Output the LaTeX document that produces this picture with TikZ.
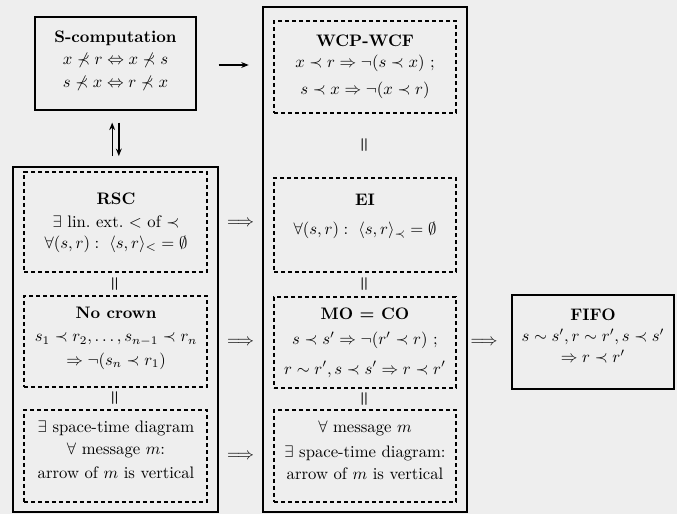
\documentclass[tikz,border=0pt]{standalone}
\usepackage{amsmath, amssymb}
\usetikzlibrary{fit, calc, arrows.meta}
\definecolor{paper}{RGB}{238,238,238}

\begin{document}
\begin{tikzpicture}[x=0.6pt, y=-0.6pt,
  solidbox/.style={draw, line width=1.1pt, inner sep=0pt},
  dashbox/.style={draw, line width=1.1pt, dash pattern=on 2.6pt off 1.6pt, inner sep=0pt},
  ttl/.style={anchor=base, font=\bfseries},
  txt/.style={anchor=base},
  eqv/.style={rotate=90, inner sep=0pt},
  arr/.style={-{Stealth[length=4.5pt, width=3.5pt]}, line width=0.8pt}]
% 底
\fill[paper] (0, 0) rectangle (677, 514);
\useasboundingbox (0, 0) rectangle (677, 514);
% 实框
\node[solidbox, fit={(35, 17) (196, 110)}] (scomp) {};
\node[solidbox, fit={(13, 167) (218, 512)}] (lft) {};
\node[solidbox, fit={(263, 7) (467, 512)}] (mid) {};
\node[solidbox, fit={(512, 295) (674, 389)}] (fifo) {};
% 虚框
\node[dashbox, fit={(24, 172) (207, 272)}] (rsc) {};
\node[dashbox, fit={(24, 296) (207, 387)}] (crown) {};
\node[dashbox, fit={(24, 410) (207, 502)}] (sptl) {};
\node[dashbox, fit={(274, 21) (456, 113)}] (wcp) {};
\node[dashbox, fit={(274, 178) (456, 272)}] (ei) {};
\node[dashbox, fit={(274, 297) (456, 388)}] (moco) {};
\node[dashbox, fit={(274, 410) (456, 502)}] (sptm) {};
% 箭头
\draw[arr, shorten <=13pt, shorten >=8pt] (scomp.east |- 0, 65) -- (mid.west |- 0, 65);
\draw[arr, shorten <=6pt, shorten >=7pt] ([xshift=-2pt]lft.north) -- ([xshift=-2pt]scomp.south);
\draw[arr, shorten <=7pt, shorten >=6pt] ([xshift=2pt]scomp.south) -- ([xshift=2pt]lft.north);
\node (imp1) at ($(rsc.east)!0.5!(ei.west)$) {$\Longrightarrow$};
\node (imp2) at ($(crown.east)!0.5!(moco.west)$) {$\Longrightarrow$};
\node (imp3) at ($(sptl.east)!0.5!(sptm.west)$) {$\Longrightarrow$};
\node (imp4) at ($(moco.east)!0.5!(fifo.west)$) {$\Longrightarrow$};
% 等价
\node[eqv] (eq1) at ($(rsc.south)!0.5!(crown.north)$) {$\boldsymbol{=}$};
\node[eqv] (eq2) at ($(crown.south)!0.5!(sptl.north)$) {$\boldsymbol{=}$};
\node[eqv] (eq3) at ($(wcp.south)!0.5!(ei.north)$) {$\boldsymbol{=}$};
\node[eqv] (eq4) at ($(ei.south)!0.5!(moco.north)$) {$\boldsymbol{=}$};
\node[eqv] (eq5) at ($(moco.south)!0.5!(sptm.north)$) {$\boldsymbol{=}$};
%Text
\node[ttl] (scompT) at (115.5, 43) {S-computation};
\node[txt] (scomp1) at (115.5, 65) {$x \nprec r \Leftrightarrow x \nprec s$};
\node[txt] (scomp2) at (115.5, 88) {$s \nprec x \Leftrightarrow r \nprec x$};
\node[ttl] (wcpT) at (365, 47) {WCP-WCF};
\node[txt] (wcp1) at (365, 68) {$x \prec r \Rightarrow \neg(s \prec x)$ ;};
\node[txt] (wcp2) at (365, 95) {$s \prec x \Rightarrow \neg(x \prec r)$};
\node[ttl] (rscT) at (116, 204) {RSC};
\node[txt] (rsc1) at (116, 228) {$\exists$ lin.\ ext.\ $<$ of $\prec$};
\node[txt] (rsc2) at (116, 248) {$\forall(s,r):\ \langle s,r\rangle_{<} = \emptyset$};
\node[ttl] (eiT) at (365, 206) {EI};
\node[txt] (ei1) at (365, 235) {$\forall(s,r):\ \langle s,r\rangle_{\prec} = \emptyset$};
\node[ttl] (crownT) at (116, 319) {No crown};
\node[txt] (crown1) at (116, 342) {$s_1 \prec r_2, \ldots, s_{n-1} \prec r_n$};
\node[txt] (crown2) at (116, 365) {$\Rightarrow \neg(s_n \prec r_1)$};
\node[ttl] (mocoT) at (365, 320) {MO = CO};
\node[txt] (moco1) at (365, 345) {$s \prec s' \Rightarrow \neg(r' \prec r)$ ;};
\node[txt] (moco2) at (365, 374) {$r \sim r', s \prec s' \Rightarrow r \prec r'$};
\node[txt] (sptl1) at (116, 433) {$\exists$ space-time diagram};
\node[txt] (sptl2) at (116, 455) {$\forall$ message $m$:};
\node[txt] (sptl3) at (116, 478) {arrow of $m$ is vertical};
\node[txt] (sptm1) at (365, 433) {$\forall$ message $m$};
\node[txt] (sptm2) at (365, 457) {$\exists$ space-time diagram:};
\node[txt] (sptm3) at (365, 479) {arrow of $m$ is vertical};
\node[ttl] (fifoT) at (593, 321) {FIFO};
\node[txt] (fifo1) at (593, 342) {$s \sim s', r \sim r', s \prec s'$};
\node[txt] (fifo2) at (593, 363) {$\Rightarrow r \prec r'$};
\end{tikzpicture}
\end{document}
